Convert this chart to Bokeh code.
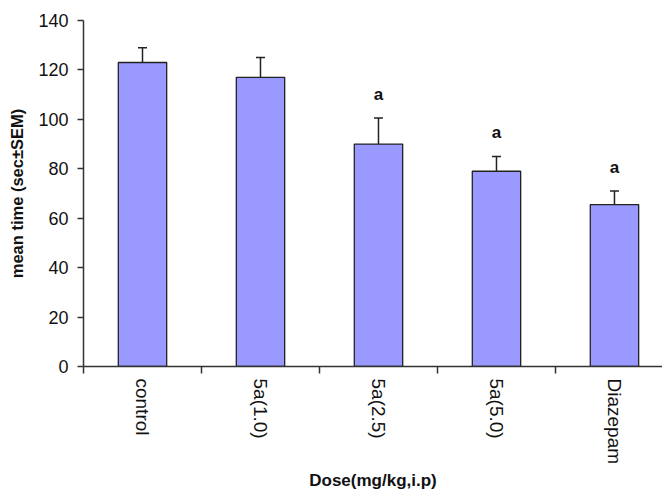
import math
from bokeh.plotting import figure
from bokeh.models import Range1d, FixedTicker, Whisker, TeeHead, ColumnDataSource, LinearAxis
from bokeh.core.properties import value
from bokeh.embed import file_html
from bokeh.resources import INLINE

categories = ["control", "5a(1.0)", "5a(2.5)", "5a(5.0)", "Diazepam"]
means = [123, 117, 90, 79, 65.5]
sems = [6, 8, 10.5, 6, 5.5]
sig_marks = ["", "", "a", "a", "a"]
y_ticks = [0, 20, 40, 60, 80, 100, 120, 140]

xs = list(range(len(categories)))
upper = [m + s for m, s in zip(means, sems)]
lbl_y = [u + 9.5 for u in upper]

src = ColumnDataSource(dict(x=xs, top=means, upper=upper, lower=means, ly=lbl_y, mark=sig_marks))

FONT = "Liberation Sans"

p = figure(width=662, height=494, output_backend="svg", toolbar_location=None,
           x_range=Range1d(-0.5, 4.407), y_range=Range1d(0, 140),
           min_border_left=83, min_border_right=0, min_border_top=20, min_border_bottom=128,
           x_axis_type=None)
p.outline_line_color = None
p.xgrid.visible = False
p.ygrid.visible = False
p.background_fill_color = "white"
p.border_fill_color = "white"

p.vbar(x="x", top="top", width=0.41, bottom=0, source=src,
       fill_color="#9999FF", line_color="#222222", line_width=1.3)

w = Whisker(base="x", upper="upper", lower="lower", source=src, dimension="height",
            line_color="#222222", line_width=1.5,
            upper_head=TeeHead(size=9, line_color="#222222", line_width=1.5), lower_head=None)
p.add_layout(w)

p.text(x="x", y="ly", text="mark", source=src, text_align="center", text_baseline="middle",
       text_font=value(FONT), text_font_size="17px", text_font_style="bold", text_color="#111111")

# y axis
ya = p.yaxis[0]
ya.ticker = FixedTicker(ticks=y_ticks)
ya.minor_tick_line_color = None
ya.major_tick_out = 6
ya.major_tick_in = 0
ya.axis_line_color = "#333333"
ya.major_tick_line_color = "#333333"
ya.axis_line_width = 1.5
ya.major_tick_line_width = 1.5
ya.major_label_text_font = FONT
ya.major_label_text_font_size = "18px"
ya.major_label_text_color = "#111111"
ya.major_label_standoff = 9
ya.axis_label = "mean time (sec±SEM)"
ya.axis_label_text_font = FONT
ya.axis_label_text_font_size = "16.5px"
ya.axis_label_text_font_style = "bold"
ya.axis_label_text_color = "#111111"
ya.axis_label_standoff = 9

# x axis: labels at centers, tick marks at category boundaries (minor ticks)
xa = LinearAxis(ticker=FixedTicker(ticks=xs, minor_ticks=[i - 0.5 for i in xs]))
xa.major_label_overrides = {i: c for i, c in zip(xs, categories)}
xa.major_label_orientation = -math.pi / 2
xa.major_tick_out = 0
xa.major_tick_in = 0
xa.minor_tick_out = 7
xa.minor_tick_in = 0
xa.minor_tick_line_color = "#333333"
xa.minor_tick_line_width = 1.5
xa.axis_line_color = "#333333"
xa.axis_line_width = 1.5
xa.major_label_text_font = FONT
xa.major_label_text_font_size = "19px"
xa.major_label_text_color = "#111111"
xa.major_label_standoff = 5
xa.axis_label = "Dose(mg/kg,i.p)"
xa.axis_label_text_font = FONT
xa.axis_label_text_font_size = "17px"
xa.axis_label_text_font_style = "bold"
xa.axis_label_text_color = "#111111"
xa.axis_label_standoff = 4
p.add_layout(xa, "below")

open("out.html", "w").write(file_html(p, INLINE))
